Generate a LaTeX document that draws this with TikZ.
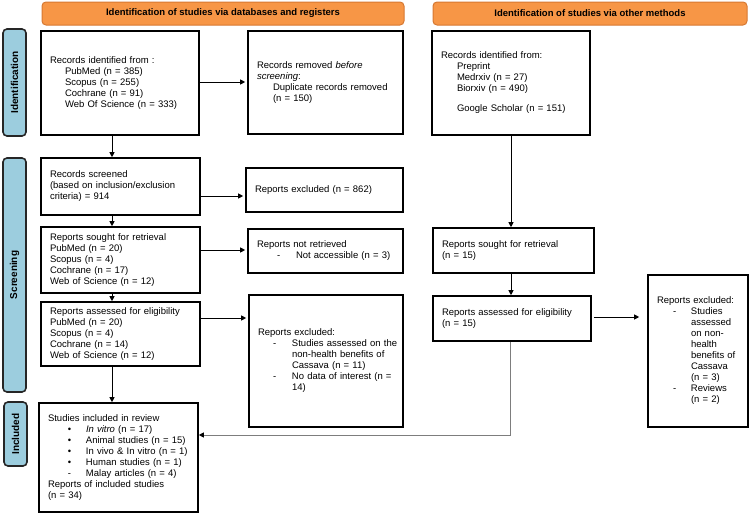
\documentclass[tikz,border=0pt]{standalone}
\usepackage{fontspec}
\setmainfont{Liberation Sans}
\usetikzlibrary{arrows.meta,calc}
\definecolor{hdr}{RGB}{247,150,70}
\definecolor{hdrb}{RGB}{214,120,50}
\definecolor{sidec}{RGB}{156,205,222}
\definecolor{gline}{RGB}{125,125,125}
\newcommand{\bodyf}{\fontsize{9.5}{11}\selectfont}
\newcommand{\dashitem}[3]{\hspace*{#1}\makebox[#2][l]{-}#3}
\newcommand{\bulitem}[1]{\hspace*{20pt}\makebox[18pt][l]{\textbullet}#1}
\begin{document}
\begin{tikzpicture}[x=1pt,y=-1pt,
 box/.style={draw=black, line width=1.6pt, fill=white, align=left, inner xsep=9pt, inner ysep=0pt, font=\bodyf},
 hdrbox/.style={draw=hdrb, fill=hdr, line width=1pt, rounded corners=4pt, font=\bfseries\fontsize{9.5}{11}\selectfont, minimum height=23pt, inner sep=0pt},
 sidebox/.style={draw=black!85, fill=sidec, line width=1.6pt, rounded corners=4pt, rotate=90, font=\bfseries\fontsize{10}{11}\selectfont, minimum height=23pt, inner sep=0pt},
 arr/.style={-{Triangle[length=5pt,width=5pt]}, line width=0.9pt}]

\useasboundingbox (0,0) rectangle (750,514);

% headers
\node[hdrbox, minimum width=362pt] (h1) at (223,13.5) {Identification of studies via databases and registers};
\node[hdrbox, minimum width=314pt] (h2) at (590,13.5) {Identification of studies via other methods};

% side bars
\node[sidebox, minimum width=107pt] (s1) at (14.5,82.5) {Identification};
\node[sidebox, minimum width=234pt] (s2) at (14.5,275) {Screening};
\node[sidebox, minimum width=64pt] (s3) at (15.5,434) {Included};

% left column
\node[box, minimum width=158pt, minimum height=104pt, text width=140pt] (rid) at (120,83) {Records identified from :\\
\hspace*{15pt}PubMed (n = 385)\\
\hspace*{15pt}Scopus (n = 255)\\
\hspace*{15pt}Cochrane (n = 91)\\
\hspace*{15pt}Web Of Science (n = 333)};

\node[box, minimum width=159pt, minimum height=57pt, text width=141pt] (scr) at (120.5,186.5) {Records screened\\
(based on inclusion/exclusion\\
criteria) = 914};

\node[box, minimum width=159pt, minimum height=66pt, text width=141pt] (sought) at (120.5,260) {Reports sought for retrieval\\
PubMed (n = 20)\\
Scopus (n = 4)\\
Cochrane (n = 17)\\
Web of Science (n = 12)};

\node[box, minimum width=159pt, minimum height=64pt, text width=141pt] (elig) at (120.5,334) {Reports assessed for eligibility\\
PubMed (n = 20)\\
Scopus (n = 4)\\
Cochrane (n = 14)\\
Web of Science (n = 12)};

\node[box, minimum width=159pt, minimum height=109pt, text width=141pt] (inc) at (118.5,457.5) {Studies included in review\\
\bulitem{\textit{In vitro} (n = 17)}\\
\bulitem{Animal studies (n = 15)}\\
\bulitem{In vivo \& In vitro (n = 1)}\\
\bulitem{Human studies (n = 1)}\\
\dashitem{20pt}{18pt}{Malay articles (n = 4)}\\
Reports of included studies\\
(n = 34)};

% middle column
\node[box, minimum width=155pt, minimum height=103pt, text width=137pt] (rem) at (325.5,82.5) {Records removed \textit{before}\\
\textit{screening}:\\
\hspace*{16pt}Duplicate records removed\\
\hspace*{16pt}(n = 150)};

\node[box, minimum width=157pt, minimum height=44pt, text width=139pt] (exc1) at (324.5,190) {Reports excluded (n = 862)};

\node[box, minimum width=155pt, minimum height=44pt, text width=137pt] (notret) at (325.5,251) {Reports not retrieved\\
\dashitem{20pt}{19pt}{Not accessible (n = 3)}};

\node[box, minimum width=154pt, minimum height=132pt, text width=136pt] (exc2) at (326,361) {Reports excluded:\\
\mbox{\dashitem{15pt}{19pt}{Studies assessed on the}}\\
\hspace*{34pt}non-health benefits of\\
\hspace*{34pt}Cassava (n = 11)\\
\mbox{\dashitem{15pt}{19pt}{No data of interest (n =}}\\
\hspace*{34pt}14)};

% right column
\node[box, minimum width=158pt, minimum height=104pt, text width=140pt] (oid) at (511,83) {Records identified from:\\
\hspace*{16pt}Preprint\\
\hspace*{16pt}Medrxiv (n = 27)\\
\hspace*{16pt}Biorxiv (n = 490)\\[9pt]
\hspace*{16pt}Google Scholar (n = 151)};

\node[box, minimum width=161pt, minimum height=45pt, text width=143pt] (osought) at (513.5,250.5) {Reports sought for retrieval\\
(n = 15)};

\node[box, minimum width=158pt, minimum height=45pt, text width=140pt] (oelig) at (512,318.5) {Reports assessed for eligibility\\
(n = 15)};

\node[box, minimum width=100pt, minimum height=152pt, text width=82pt] (oexc) at (698,351) {Reports excluded:\\
\dashitem{16pt}{18pt}{Studies}\\
\hspace*{34pt}assessed\\
\hspace*{34pt}on non-\\
\hspace*{34pt}health\\
\hspace*{34pt}benefits of\\
\hspace*{34pt}Cassava\\
\hspace*{34pt}(n = 3)\\
\dashitem{16pt}{18pt}{Reviews}\\
\hspace*{34pt}(n = 2)};

% connector coordinates
\coordinate (xl) at (112,0);
\coordinate (xr) at (511,0);
\coordinate (y1) at (0,82);
\coordinate (y2) at (0,196);
\coordinate (y3) at (0,250);
\coordinate (y4) at (0,318);
\coordinate (y5) at (0,317);
\coordinate (cinc) at (510,435);

% connectors, left column
\draw[arr] (rid.south -| xl) -- (scr.north -| xl);
\draw[arr] (scr.south -| xl) -- (sought.north -| xl);
\draw[arr] (sought.south -| xl) -- (elig.north -| xl);
\draw[arr] (elig.south -| xl) -- (inc.north -| xl);

% connectors, to the right
\draw[arr, shorten >=2pt] (rid.east |- y1) -- (rem.west |- y1);
\draw[arr, shorten >=2pt] (scr.east |- y2) -- (exc1.west |- y2);
\draw[arr, shorten >=2pt] (sought.east |- y3) -- (notret.west |- y3);
\draw[arr, shorten >=2pt] (elig.east |- y4) -- (exc2.west |- y4);

% right column
\draw[arr] (oid.south -| xr) -- (osought.north -| xr);
\draw[arr] (osought.south -| xr) -- (oelig.north -| xr);
\draw[arr, shorten <=2pt, shorten >=8pt] (oelig.east |- y5) -- (oexc.west |- y5);
\draw[gline, line width=1pt, -{Triangle[length=5pt,width=5pt,color=black]}] (oelig.south -| cinc) -- (cinc) -- (cinc -| inc.east);

\end{tikzpicture}
\end{document}
